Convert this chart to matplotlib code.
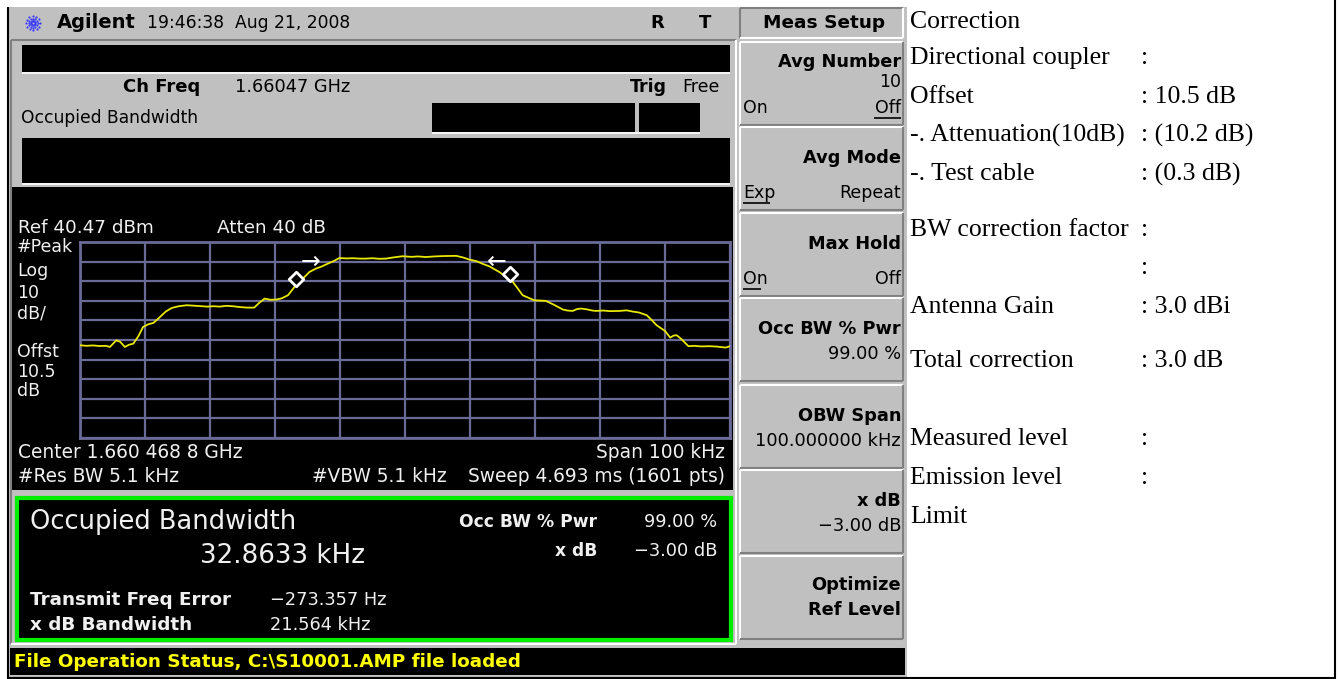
import numpy as np
import matplotlib
matplotlib.use("Agg")
import matplotlib.pyplot as plt
from matplotlib.patches import Rectangle

# ---------------- data ----------------
ref_level_dbm = 40.47
db_per_div = 10
span_khz = 100
freq_offset_khz = [-50.0, -49.0, -48.0, -47.0, -46.0, -45.4, -44.8, -44.4, -43.8, -43.1, -42.5, -41.8,
                   -41.0, -40.3, -39.5, -38.7, -37.7, -36.8, -35.9, -34.8, -33.6, -32.6, -31.6, -30.5,
                   -29.5, -28.5, -27.5, -26.5, -25.5, -24.4, -23.2, -22.4, -21.6, -20.7, -19.8, -19.0,
                   -18.0, -16.8, -15.8, -14.7, -13.7, -12.8, -11.9, -11.0, -10.1, -9.0, -8.0, -7.0,
                   -6.0, -5.0, -4.0, -2.9, -2.0, -0.4, 1.0, 2.0, 3.2, 4.5, 6.0, 7.9, 9.0, 9.9, 11.0,
                   11.9, 13.0, 14.5, 15.5, 16.6, 17.4, 18.1, 19.0, 19.9, 20.8, 21.7, 23.0, 24.3, 25.0,
                   25.8, 26.5, 27.1, 28.0, 28.8, 29.4, 30.5, 31.5, 33.0, 34.1, 35.0, 36.0, 37.2, 38.0,
                   38.7, 40.0, 40.8, 41.3, 41.8, 42.5, 43.6, 44.5, 45.5, 46.9, 48.0, 49.3, 50.0]
level_dbm = [-12.2, -12.5, -12.3, -12.6, -12.5, -13.1, -11.0, -9.7, -10.5, -13.1, -12.0, -11.4,
             -7.5, -2.9, -1.5, -0.8, 2.2, 5.0, 6.8, 7.7, 8.2, 8.0, 7.8, 7.5,
             7.7, 7.5, 7.9, 7.7, 7.3, 7.0, 7.0, 9.5, 11.6, 11.0, 11.1, 11.7,
             13.3, 18.4, 21.5, 25.2, 26.9, 28.0, 29.4, 30.7, 32.3, 32.1, 32.2, 32.0,
             32.0, 32.2, 31.9, 32.0, 32.5, 33.2, 32.9, 33.1, 32.8, 33.1, 33.3, 33.4, 32.5, 31.5, 30.7,
             29.4, 28.0, 25.2, 22.7, 20.1, 16.5, 13.3, 12.0, 10.7, 10.6, 10.4, 8.3, 6.0, 5.5,
             5.3, 6.3, 6.5, 6.1, 5.5, 5.3, 5.5, 5.2, 5.3, 5.6, 5.0, 4.5, 3.1, 0.5, -2.0,
             -4.9, -8.3, -7.3, -7.1, -9.0, -12.7, -12.5, -12.8, -12.7, -12.9, -13.4, -12.7]
marker_freq_khz = [-16.7, 16.2]
marker_level_dbm = [21.5, 24.0]
arrow_level_dbm = 30.3

table_labels = ["Correction", "Directional coupler", "Offset", "-. Attenuation(10dB)", "-. Test cable",
                "BW correction factor", "", "Antenna Gain", "Total correction",
                "Measured level", "Emission level", "Limit"]
table_values = [None, ":", ": 10.5 dB", ": (10.2 dB)", ": (0.3 dB)", ":", ":", ": 3.0 dBi", ": 3.0 dB",
                ":", ":", None]
table_rows_y = [22, 58, 97, 135, 174, 230, 268, 307, 361, 439, 478, 517]

softkeys = [("Avg Number", "10", "On", "Off", "right"),
            ("Avg Mode", None, "Exp", "Repeat", "left"),
            ("Max Hold", None, "On", "Off", "left"),
            ("Occ BW % Pwr", "99.00 %", None, None, None),
            ("OBW Span", "100.000000 kHz", None, None, None),
            ("x dB", "\u22123.00 dB", None, None, None),
            ("Optimize\nRef Level", None, None, None, None)]
key_tops = [42, 127, 213, 298, 385, 470, 556]
key_h = 83

# ---------------- figure ----------------
W, H = 1340, 679
fig = plt.figure(figsize=(W / 100, H / 100), dpi=100)
fig.patch.set_facecolor("white")
ax = fig.add_axes([0, 0, 1, 1])
ax.set_xlim(0, W)
ax.set_ylim(H, 0)
ax.axis("off")

GRAY = "#c0c0c0"
SANS = "DejaVu Sans"
SERIF = "Liberation Serif"


def rect(x0, y0, x1, y1, fc, ec="none", lw=0, z=1):
    ax.add_patch(Rectangle((x0, y0), x1 - x0, y1 - y0, facecolor=fc, edgecolor=ec, linewidth=lw, zorder=z))


def line(xs, ys, c, lw=1, z=3):
    ax.plot(xs, ys, color=c, lw=lw, zorder=z, solid_capstyle="butt")


def txt(x, y, s, size=12, c="black", w="normal", ha="left", fam=SANS, z=5, **kw):
    ax.text(x, y, s, fontsize=size, color=c, fontweight=w, ha=ha, va="center", family=fam, zorder=z, **kw)


def bevel(x0, y0, x1, y1, raised=True):
    light, dark = ("white", "#808080") if raised else ("#808080", "white")
    line([x0, x1], [y0, y0], light, 1.5)
    line([x0, x0], [y0, y1], light, 1.5)
    line([x0, x1], [y1, y1], dark, 1.5)
    line([x1, x1], [y0, y1], dark, 1.5)


# outer borders
line([8, 8], [7, H], "black", 1.5)
line([1335, 1335], [0, H], "black", 1.5)
line([8, 1335], [H - 1, H - 1], "black", 1.5)

# screen background
rect(9, 7, 907, 677, GRAY)

# title bar
cx, cy = 33, 23
for a in np.linspace(0, 2 * np.pi, 12, endpoint=False):
    r = np.array([2, 4.5, 7])
    ax.scatter(cx + r * np.cos(a), cy + r * np.sin(a), s=2.5, color="#3a3aff", zorder=5, linewidths=0)
txt(57, 23, "Agilent", 14, w="bold")
txt(147, 23, "19:46:38  Aug 21, 2008", 12.3)
txt(657, 23, "R", 13, w="bold", ha="center")
txt(705, 23, "T", 13, w="bold", ha="center")

# left panel frame
bevel(11, 40, 736, 644, raised=False)
rect(22, 45, 730, 72, "black")
line([22, 730], [73, 73], "white", 1.2)
txt(123, 87, "Ch Freq", 13, w="bold")
txt(235, 87, "1.66047 GHz", 12.8)
txt(630, 87, "Trig", 12.5, w="bold")
txt(682, 87, "Free", 12.5)
txt(21, 118, "Occupied Bandwidth", 12.3)
rect(432, 103, 635, 132, "black")
rect(639, 103, 700, 132, "black")
line([432, 700], [133, 133], "white", 1.2)
rect(22, 138, 730, 183, "black")
line([22, 730], [184, 184], "white", 1.2)

# spectrum black panel
rect(12, 187, 733, 490, "black")
W_ = "#f0f0f0"
txt(18, 228, "Ref 40.47 dBm", 13.2, c=W_)
txt(217, 228, "Atten 40 dB", 13.2, c=W_)
for s, yy in [("#Peak", 247), ("Log", 271), ("10", 293), ("dB/", 314), ("Offst", 352), ("10.5", 372), ("dB", 391)]:
    txt(17, yy, s, 12.5, c=W_)
txt(18, 452, "Center 1.660 468 8 GHz", 13.4, c=W_)
txt(725, 452, "Span 100 kHz", 13.4, c=W_, ha="right")
txt(18, 477, "#Res BW 5.1 kHz", 13.4, c=W_)
txt(312, 477, "#VBW 5.1 kHz", 13.4, c=W_)
txt(725, 477, "Sweep 4.693 ms (1601 pts)", 13.4, c=W_, ha="right")

# results box
rect(17, 498, 731, 640, "black", ec="#00ee00", lw=3, z=2)
txt(30, 522, "Occupied Bandwidth", 18.5, c=W_)
txt(200, 556, "32.8633 kHz", 18.8, c=W_)
txt(30, 600, "Transmit Freq Error", 13.2, c=W_, w="bold")
txt(270, 600, "\u2212273.357 Hz", 12.8, c=W_)
txt(30, 625, "x dB Bandwidth", 13.2, c=W_, w="bold")
txt(270, 625, "21.564 kHz", 12.8, c=W_)
txt(597, 522, "Occ BW % Pwr", 12.3, c=W_, w="bold", ha="right")
txt(717, 522, "99.00 %", 12.8, c=W_, ha="right")
txt(597, 551, "x dB", 12.3, c=W_, w="bold", ha="right")
txt(717, 551, "\u22123.00 dB", 12.8, c=W_, ha="right")

# status bar
rect(10, 648, 905, 675, "black")
txt(14, 662, "File Operation Status, C:\\S10001.AMP file loaded", 13.2, c="#ffff00", w="bold")

# soft keys
rect(740, 8, 903, 38, GRAY)
bevel(740, 8, 903, 38, raised=False)
txt(824, 23, "Meas Setup", 13.3, w="bold", ha="center")
for (title, sub, left, right, underline), top in zip(softkeys, key_tops):
    y0, y1 = top, top + key_h
    bevel(740, y0, 903, y1, raised=True)
    if "\n" in title:
        t1, t2 = title.split("\n")
        txt(901, y0 + 29, t1, 12.8, w="bold", ha="right")
        txt(901, y0 + 54, t2, 12.8, w="bold", ha="right")
        continue
    if sub is not None and left is not None:
        txt(901, y0 + 20, title, 12.8, w="bold", ha="right")
        txt(901, y0 + 40, sub, 12.5, ha="right")
    else:
        txt(901, y0 + 31, title, 12.8, w="bold", ha="right")
    if sub is not None and left is None:
        txt(901, y0 + 56, sub, 12.8, ha="right")
    if left is not None:
        txt(743, y0 + 66, left, 12.5)
        txt(901, y0 + 66, right, 12.5, ha="right")
        if underline == "left":
            line([743, 743 + 9 * len(left)], [y0 + 76, y0 + 76], "black", 1.2)
        else:
            line([901 - 9 * len(right), 901], [y0 + 76, y0 + 76], "black", 1.2)

# right-hand correction table
for lab, val, yy in zip(table_labels, table_values, table_rows_y):
    if lab:
        txt(910, yy, lab, 18.5, fam=SERIF)
    if val is not None:
        txt(1141, yy, val, 18.5, fam=SERIF)

# ---------------- spectrum graticule ----------------
gx0, gx1, gy0, gy1 = 80, 730, 242, 438
gax = fig.add_axes([gx0 / W, 1 - gy1 / H, (gx1 - gx0) / W, (gy1 - gy0) / H])
gax.set_facecolor("black")
half = span_khz / 2
gax.set_xlim(-half, half)
gax.set_ylim(ref_level_dbm - 10 * db_per_div, ref_level_dbm)
GRID = "#6a6a96"
gax.set_xticks(np.linspace(-half, half, 11))
gax.set_yticks(np.linspace(ref_level_dbm - 10 * db_per_div, ref_level_dbm, 11))
gax.grid(True, color=GRID, lw=1.6)
gax.tick_params(length=0, labelbottom=False, labelleft=False)
for sp in gax.spines.values():
    sp.set_color(GRID)
    sp.set_linewidth(2)
gax.plot(freq_offset_khz, level_dbm, color="#e8e800", lw=1.3, zorder=3)
gax.scatter(marker_freq_khz, marker_level_dbm, marker="D", s=55, facecolor="black",
            edgecolor="white", linewidths=2, zorder=4)
gax.text(marker_freq_khz[0] + 0.6, arrow_level_dbm, "\u2192", color="white", fontsize=17,
         ha="left", va="center", zorder=5)
gax.text(marker_freq_khz[1] - 0.6, arrow_level_dbm, "\u2190", color="white", fontsize=17,
         ha="right", va="center", zorder=5)

fig.savefig("out.png", dpi=100, facecolor="white")
